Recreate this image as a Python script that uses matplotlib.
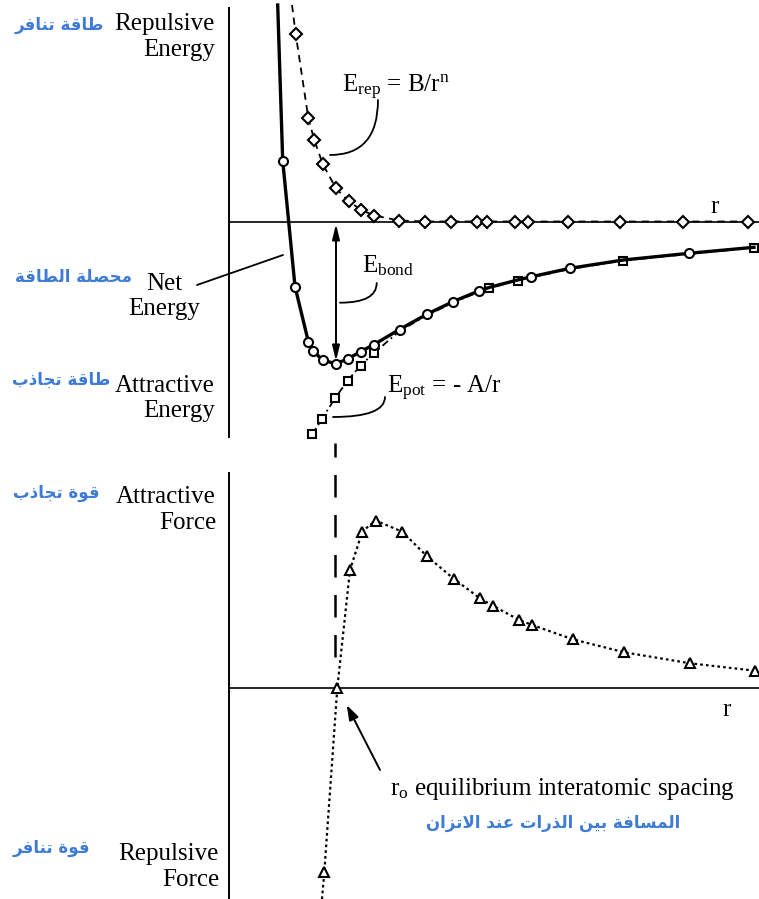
import matplotlib
matplotlib.use('Agg')
import matplotlib.pyplot as plt

plt.rcParams['font.family'] = ['Liberation Serif', 'DejaVu Sans']
plt.rcParams['mathtext.fontset'] = 'custom'
plt.rcParams['mathtext.rm'] = 'Liberation Serif'
plt.rcParams['mathtext.it'] = 'Liberation Serif:italic'

# interatomic distance r and energies (arbitrary units)
net_r = [0.487, 0.537, 0.66, 0.793, 0.843, 0.935, 1.067, 1.193, 1.317, 1.448, 1.705, 1.977,
         2.243, 2.497, 2.60, 2.885, 3.02, 3.41, 3.943, 4.60, 5.25]
net_E = [2.165, 0.61, -0.65, -1.20, -1.295, -1.385, -1.423, -1.372, -1.30, -1.231, -1.08, -0.928,
         -0.80, -0.695, -0.66, -0.585, -0.553, -0.468, -0.385, -0.318, -0.258]
net_marks = [1, 2, 3, 4, 5, 6, 7, 8, 9, 10, 11, 12, 13, 16, 17, 19]

rep_r = [0.63, 0.667, 0.793, 0.853, 0.937, 1.07, 1.195, 1.315, 1.45, 1.70, 1.96, 2.22,
         2.48, 2.58, 2.86, 2.99, 3.39, 3.91, 4.54, 5.19]
rep_E = [2.165, 1.875, 1.035, 0.815, 0.575, 0.332, 0.205, 0.12, 0.06, 0.01, 0.0, 0.0,
         0.0, 0.0, 0.0, 0.0, 0.0, 0.0, 0.0, 0.0]

att_r = [0.833, 0.927, 1.06, 1.187, 1.315, 1.448, 1.705, 1.977, 2.243, 2.497, 2.60, 2.885,
         3.02, 3.41, 3.943, 4.60, 5.25]
att_E = [-2.128, -1.978, -1.768, -1.59, -1.44, -1.318, -1.095, -0.94, -0.81, -0.705, -0.665,
         -0.59, -0.56, -0.475, -0.39, -0.325, -0.26]
att_marks = [0, 1, 2, 3, 4, 5, 10, 11, 14, 16]

force_r = [0.93, 0.953, 1.083, 1.21, 1.333, 1.465, 1.733, 1.977, 2.25, 2.51, 2.637, 2.903,
           3.033, 3.437, 3.953, 4.61, 5.26]
force_F = [-2.11, -1.843, 0.0, 1.18, 1.565, 1.675, 1.563, 1.32, 1.09, 0.897, 0.823, 0.68,
           0.63, 0.487, 0.357, 0.247, 0.173]

r0 = 1.06
E_min = -1.395

# arabic labels
ar_rep_energy = 'طاقة تنافر'
ar_net_energy = 'محصلة الطاقة'
ar_att_energy = 'طاقة تجاذب'
ar_att_force = 'قوة تجاذب'
ar_rep_force = 'قوة تنافر'
ar_spacing = 'المسافة بين الذرات عند الاتزان'

# presentation forms: isolated, final, initial, medial
FORMS = {
    'ا': (0xFE8D, 0xFE8E, None, None), 'ب': (0xFE8F, 0xFE90, 0xFE91, 0xFE92),
    'ة': (0xFE93, 0xFE94, None, None), 'ت': (0xFE95, 0xFE96, 0xFE97, 0xFE98),
    'ج': (0xFE9D, 0xFE9E, 0xFE9F, 0xFEA0), 'ح': (0xFEA1, 0xFEA2, 0xFEA3, 0xFEA4),
    'د': (0xFEA9, 0xFEAA, None, None), 'ذ': (0xFEAB, 0xFEAC, None, None),
    'ر': (0xFEAD, 0xFEAE, None, None), 'ز': (0xFEAF, 0xFEB0, None, None),
    'س': (0xFEB1, 0xFEB2, 0xFEB3, 0xFEB4), 'ص': (0xFEB9, 0xFEBA, 0xFEBB, 0xFEBC),
    'ط': (0xFEC1, 0xFEC2, 0xFEC3, 0xFEC4), 'ع': (0xFEC9, 0xFECA, 0xFECB, 0xFECC),
    'ف': (0xFED1, 0xFED2, 0xFED3, 0xFED4), 'ق': (0xFED5, 0xFED6, 0xFED7, 0xFED8),
    'ل': (0xFEDD, 0xFEDE, 0xFEDF, 0xFEE0), 'م': (0xFEE1, 0xFEE2, 0xFEE3, 0xFEE4),
    'ن': (0xFEE5, 0xFEE6, 0xFEE7, 0xFEE8), 'و': (0xFEED, 0xFEEE, None, None),
    'ي': (0xFEF1, 0xFEF2, 0xFEF3, 0xFEF4),
}


def shape_ar(text):
    # matplotlib has no arabic shaping, so pick the joined forms by hand and reverse
    out = []
    i = 0
    prev_joins = False
    while i < len(text):
        c = text[i]
        if c not in FORMS:
            out.append(c)
            prev_joins = False
            i += 1
            continue
        if c == 'ل' and i + 1 < len(text) and text[i + 1] == 'ا':
            out.append(chr(0xFEFC if prev_joins else 0xFEFB))
            prev_joins = False
            i += 2
            continue
        f = FORMS[c]
        nxt = text[i + 1] if i + 1 < len(text) else ''
        next_joins = f[2] is not None and nxt in FORMS
        if prev_joins and next_joins:
            g = f[3]
        elif prev_joins:
            g = f[1]
        elif next_joins:
            g = f[2]
        else:
            g = f[0]
        out.append(chr(g))
        prev_joins = f[2] is not None
        i += 1
    return ''.join(reversed(out))


blue = '#3d7bd6'
ar_font = dict(family=['DejaVu Sans'], weight='bold', color=blue, fontsize=12)
mk = dict(mfc='white', mec='black', mew=1.5)

fig = plt.figure(figsize=(7.59, 8.99), dpi=100)
ax1 = fig.add_axes([0, 459 / 899, 1, 440 / 899])
ax2 = fig.add_axes([0, 0, 1, 439 / 899])

for ax in (ax1, ax2):
    ax.set_xlim(-2.29, 5.30)
    ax.patch.set_visible(False)
    ax.spines['top'].set_visible(False)
    ax.spines['right'].set_visible(False)
    ax.spines['left'].set_position(('data', 0))
    ax.spines['bottom'].set_position(('data', 0))
    ax.spines['bottom'].set_bounds(0, 5.30)
    ax.spines['left'].set_linewidth(1.4)
    ax.spines['bottom'].set_linewidth(1.2)
    ax.set_xticks([])
    ax.set_yticks([])

ax1.set_ylim(-2.185, 2.215)
ax1.spines['left'].set_bounds(-2.155, 2.135)
ax2.set_ylim(-2.11, 2.28)
ax2.spines['left'].set_bounds(-2.11, 2.15)

# energy curves
ax1.plot(rep_r, rep_E, color='black', lw=1.3, ls=(0, (4, 3)), marker='D', ms=6.5,
         markevery=list(range(1, len(rep_r))), zorder=3, **mk)
ax1.plot(att_r, att_E, color='black', lw=1.3, ls=(0, (4, 2, 1, 2)), marker='s', ms=6,
         markevery=att_marks, zorder=3, **mk)
ax1.plot(net_r, net_E, color='black', lw=2.4, marker='o', ms=6.5,
         markevery=net_marks, zorder=4, **mk)

# bond energy arrow
ax1.annotate('', xy=(r0 + 0.01, -0.025), xytext=(r0 + 0.01, E_min),
             arrowprops=dict(arrowstyle='<|-|>,head_length=0.9,head_width=0.22',
                             color='black', lw=1.4, shrinkA=0, shrinkB=0))

# labels top panel
ax1.text(-0.14, 1.845, 'Repulsive\nEnergy', ha='right', va='center', fontsize=18,
         linespacing=1.2, multialignment='right')
ax1.text(-0.65, -0.75, 'Net\nEnergy', ha='center', va='center', fontsize=18,
         linespacing=1.2, multialignment='center')
ax1.text(-0.14, -1.77, 'Attractive\nEnergy', ha='right', va='center', fontsize=18,
         linespacing=1.2, multialignment='right')
ax1.text(4.86, 0.145, 'r', ha='center', va='center', fontsize=18)
ax1.annotate('', xy=(0.54, -0.335), xytext=(-0.32, -0.635),
             arrowprops=dict(arrowstyle='-', lw=1.3, color='black', shrinkA=0, shrinkB=0))

ax1.text(1.127, 1.295, r'E$_\mathrm{rep}$ = B/r$^\mathrm{n}$', ha='left', va='baseline', fontsize=18)
ax1.annotate('', xy=(1.01, 0.665), xytext=(1.49, 1.215),
             arrowprops=dict(arrowstyle='-', lw=1.3, color='black', shrinkA=0, shrinkB=0,
                             connectionstyle='angle3,angleA=90,angleB=0'))
ax1.text(1.327, -0.505, r'E$_\mathrm{bond}$', ha='left', va='baseline', fontsize=18)
ax1.annotate('', xy=(1.11, -0.812), xytext=(1.477, -0.615),
             arrowprops=dict(arrowstyle='-', lw=1.3, color='black', shrinkA=0, shrinkB=0,
                             connectionstyle='angle3,angleA=90,angleB=0'))
ax1.text(1.577, -1.715, r'E$_\mathrm{pot}$ = - A/r', ha='left', va='baseline', fontsize=18)
ax1.annotate('', xy=(1.04, -1.955), xytext=(1.56, -1.755),
             arrowprops=dict(arrowstyle='-', lw=1.3, color='black', shrinkA=0, shrinkB=0,
                             connectionstyle='angle3,angleA=90,angleB=0'))

ax1.text(-2.14, 1.965, shape_ar(ar_rep_energy), ha='left', va='center', **ar_font)
ax1.text(-2.14, -0.552, shape_ar(ar_net_energy), ha='left', va='center', **ar_font)
ax1.text(-2.17, -1.585, shape_ar(ar_att_energy), ha='left', va='center', **ar_font)

# force curve
ax2.plot(force_r, force_F, color='black', lw=1.6, ls=(0, (1.2, 1.4)), marker='^', ms=6.5,
         markevery=list(range(1, len(force_r))), zorder=3, **mk)
ax2.vlines(r0, 0.31, 2.45, color='black', lw=1.8, linestyles=(0, (9, 7)), clip_on=False)

ax2.text(-0.13, 1.78, 'Attractive\nForce', ha='right', va='center', fontsize=18,
         linespacing=1.2, multialignment='right')
ax2.text(-0.10, -1.79, 'Repulsive\nForce', ha='right', va='center', fontsize=18,
         linespacing=1.2, multialignment='right')
ax2.text(4.98, -0.22, 'r', ha='center', va='center', fontsize=18)
ax2.text(1.61, -1.07, r'r$_\mathrm{o}$ equilibrium interatomic spacing', ha='left',
         va='baseline', fontsize=18)
ax2.annotate('', xy=(1.177, -0.17), xytext=(1.51, -0.82),
             arrowprops=dict(arrowstyle='-|>,head_length=0.9,head_width=0.3',
                             color='black', lw=1.4, shrinkA=0, shrinkB=0))

ax2.text(-2.16, 1.95, shape_ar(ar_att_force), ha='left', va='center', **ar_font)
ax2.text(-2.16, -1.60, shape_ar(ar_rep_force), ha='left', va='center', **ar_font)
ax2.text(3.24, -1.35, shape_ar(ar_spacing), ha='center', va='center', **ar_font)

fig.savefig('out.png', dpi=100)
